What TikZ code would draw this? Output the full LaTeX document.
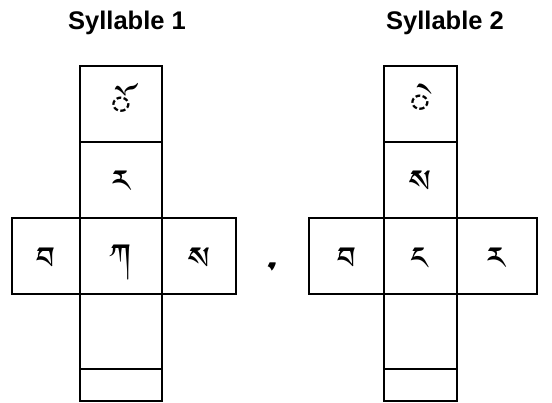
\documentclass[tikz,border=0pt]{standalone}
\usepackage{fontspec}
\setmainfont{Liberation Sans}
\IfFontExistsTF{Jomolhari}
  {\newfontfamily\tibfont[Script=Tibetan]{Jomolhari}}
  {\IfFontExistsTF{Tibetan Machine Uni}
    {\newfontfamily\tibfont[Script=Tibetan]{Tibetan Machine Uni}}
    {\IfFontExistsTF{FreeSerif}
      {\newfontfamily\tibfont{FreeSerif}}
      {\newfontfamily\tibfont{DejaVu Sans}}}}
\tikzset{
  cell/.style={draw, line width=2.2pt, inner sep=0pt, outer sep=0pt, anchor=north west},
  glyph/.style={inner sep=0pt, font=\tibfont\fontsize{40}{40}\selectfont},
  title/.style={font=\bfseries\fontsize{25.5}{25.5}\selectfont, inner sep=0pt},
}
\begin{document}
\begin{tikzpicture}[x=1pt,y=-1pt]
\clip (0,0) rectangle (552,402);
\fill[white] (0,0) rectangle (552,402);
% titles
\node[title] (t1) at (127,22.5) {Syllable 1};
\node[title] (t2) at (445,22.5) {Syllable 2};
% syllable 1
\node[cell, minimum width=82pt, minimum height=76pt] (s1top) at (80.3,65.7) {};
\node[cell, minimum width=82pt, minimum height=76pt] (s1sup) at (80.3,141.7) {};
\node[cell, minimum width=68.3pt, minimum height=76.3pt] (s1pre) at (12,217.7) {};
\node[cell, minimum width=82pt, minimum height=76.3pt] (s1root) at (80.3,217.7) {};
\node[cell, minimum width=74pt, minimum height=76.3pt] (s1suf) at (162.3,217.7) {};
\node[cell, minimum width=82pt, minimum height=75pt] (s1sub) at (80.3,294) {};
\node[cell, minimum width=82pt, minimum height=31.7pt] (s1post) at (80.3,369) {};
\node[glyph] (g1top)  at ([yshift=-1pt]s1top.center) {◌ོ};
\node[glyph] (g1sup)  at ([yshift=-6.5pt]s1sup.center) {ར};
\node[glyph] (g1pre)  at ([yshift=-7pt]s1pre.center) {བ};
\node[glyph] (g1root) at ([yshift=-7pt]s1root.center) {ཀ};
\node[glyph] (g1suf)  at ([yshift=-7pt]s1suf.center) {ས};
% tsheg
\node[inner sep=0pt, font=\tibfont\fontsize{70}{70}\selectfont] (tsheg) at (272,289) {་};
% syllable 2
\node[cell, minimum width=73.3pt, minimum height=76pt] (s2top) at (383.7,65.7) {};
\node[cell, minimum width=73.3pt, minimum height=76pt] (s2sup) at (383.7,141.7) {};
\node[cell, minimum width=74.4pt, minimum height=76.3pt] (s2pre) at (309.3,217.7) {};
\node[cell, minimum width=73.3pt, minimum height=76.3pt] (s2root) at (383.7,217.7) {};
\node[cell, minimum width=80pt, minimum height=76.3pt] (s2suf) at (457,217.7) {};
\node[cell, minimum width=73.3pt, minimum height=75pt] (s2sub) at (383.7,294) {};
\node[cell, minimum width=73.3pt, minimum height=31.7pt] (s2post) at (383.7,369) {};
\node[glyph] (g2top)  at ([yshift=-1pt]s2top.center) {◌ེ};
\node[glyph] (g2sup)  at ([yshift=-6.5pt]s2sup.center) {ས};
\node[glyph] (g2pre)  at ([yshift=-7pt]s2pre.center) {བ};
\node[glyph] (g2root) at ([yshift=-7pt]s2root.center) {ང};
\node[glyph] (g2suf)  at ([yshift=-7pt]s2suf.center) {ར};
\end{tikzpicture}
\end{document}
